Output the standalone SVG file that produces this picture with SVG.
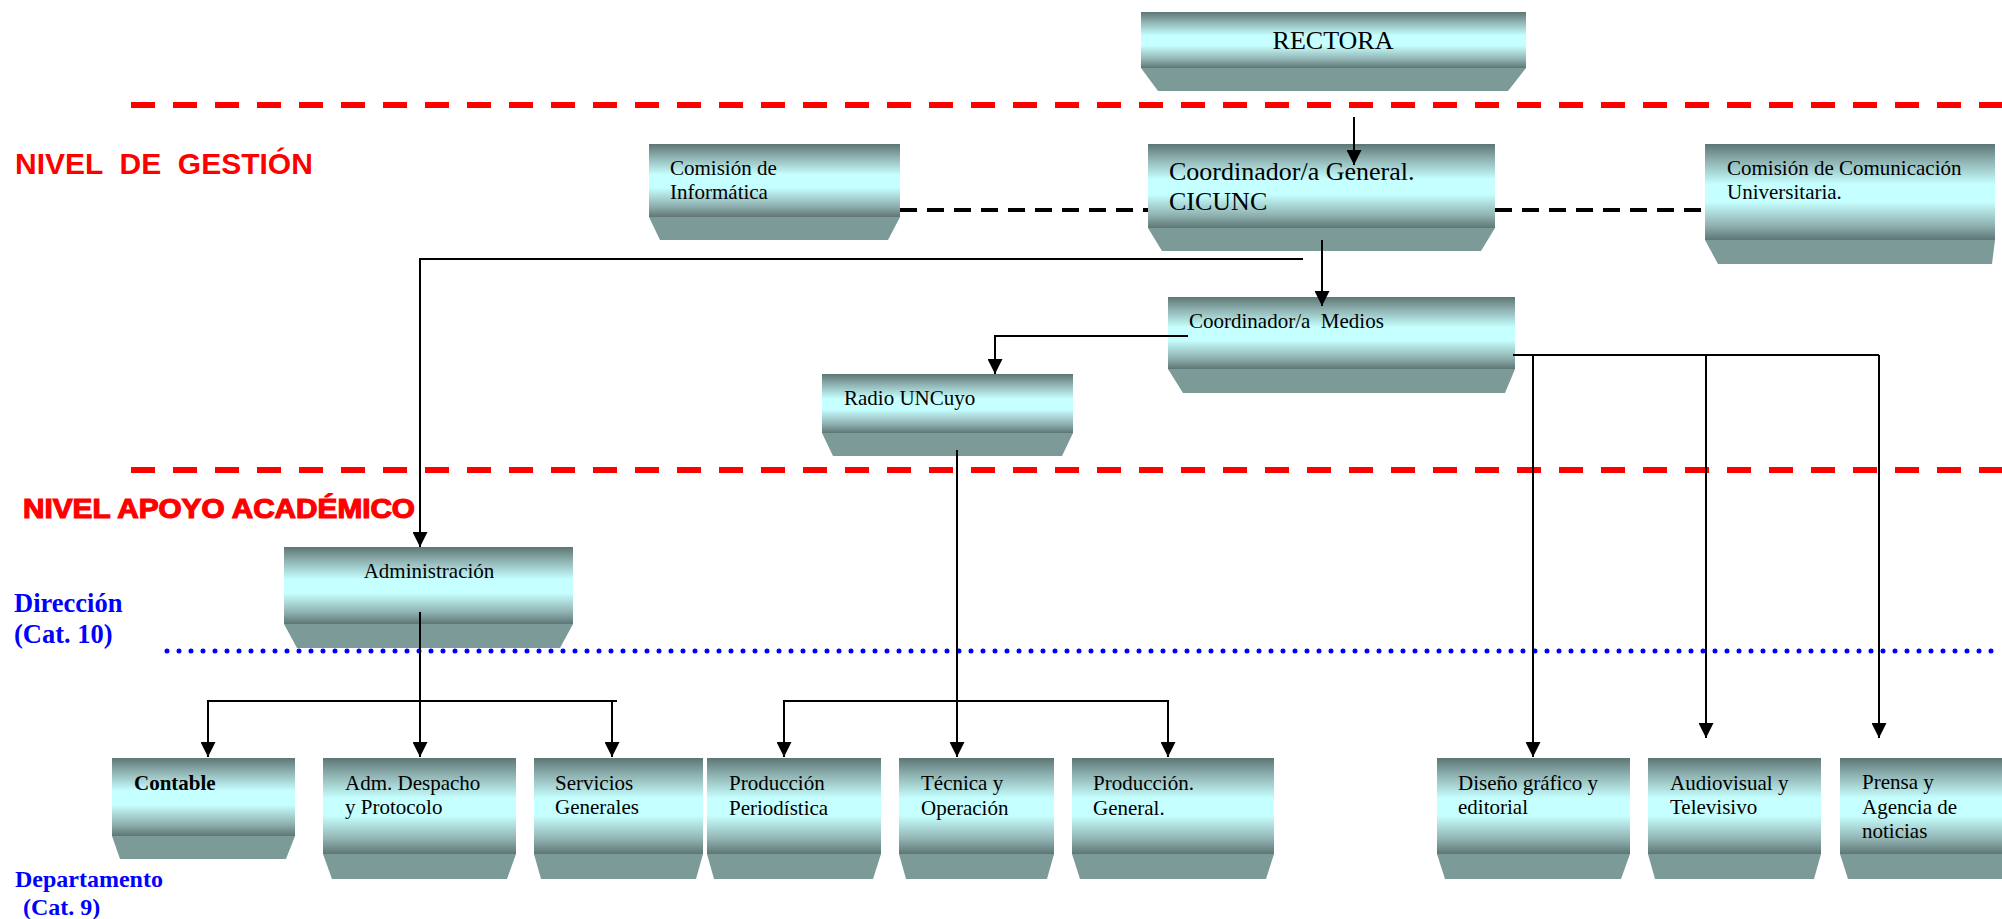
<svg xmlns="http://www.w3.org/2000/svg" width="2002" height="919" viewBox="0 0 2002 919">
  <defs>
    <!-- cylinder-like shading of the box faces -->
    <linearGradient id="face" x1="0" y1="0" x2="0" y2="1">
      <stop offset="0" stop-color="#5d7675"/>
      <stop offset="0.18" stop-color="#8fb3b2"/>
      <stop offset="0.42" stop-color="#c6ffff"/>
      <stop offset="0.6" stop-color="#c6ffff"/>
      <stop offset="0.85" stop-color="#8fb1b0"/>
      <stop offset="1" stop-color="#5d7675"/>
    </linearGradient>
    <marker id="arrow" viewBox="0 0 15 15" refX="15" refY="7.5" markerWidth="15" markerHeight="15" markerUnits="userSpaceOnUse" orient="auto">
      <path d="M0,0 L15,7.5 L0,15 z" fill="#000"/>
    </marker>
    <style>
      .face { fill: url(#face); }
      .base { fill: #7b9a98; }
      .t { font-family: "Liberation Serif", "Times New Roman", serif; font-size: 21px; fill: #000; }
      .big { font-size: 26px; }
      .conn { fill: none; stroke: #000; stroke-width: 2; }
      .arr { marker-end: url(#arrow); }
      .link { fill: none; stroke: #000; stroke-width: 4; stroke-dasharray: 17 10; }
      .level { fill: none; stroke: #ff0000; stroke-width: 6; stroke-dasharray: 24 18; }
      .dots { fill: none; stroke: #0000ff; stroke-width: 5; stroke-linecap: round; stroke-dasharray: 0 12; }
      .red { font-family: "Liberation Sans", Arial, sans-serif; font-weight: bold; fill: #ff0000; }
      .blue { font-family: "Liberation Serif", "Times New Roman", serif; font-weight: bold; fill: #0000ff; }
    </style>
  </defs>

  <!-- level separators -->
  <g id="separators">
    <line class="level" x1="131" y1="105" x2="2002" y2="105"/>
    <line class="level" x1="131" y1="470" x2="2002" y2="470"/>
    <line class="dots" x1="167" y1="651" x2="2002" y2="651"/>
  </g>

  <!-- level labels -->
  <g id="labels">
    <text class="red" x="15" y="174" font-size="30" xml:space="preserve">NIVEL  DE  GESTIÓN</text>
    <text class="red" x="23" y="518" font-size="27" stroke="#ff0000" stroke-width="1.2" textLength="392" lengthAdjust="spacingAndGlyphs">NIVEL APOYO ACADÉMICO</text>
    <text class="blue" x="14" y="612" font-size="26.5">Dirección</text>
    <text class="blue" x="14" y="643" font-size="26.5">(Cat. 10)</text>
    <text class="blue" x="15" y="887" font-size="24">Departamento</text>
    <text class="blue" x="23" y="915" font-size="24">(Cat. 9)</text>
  </g>

  <!-- nodes -->
  <g id="rectora">
    <polygon class="base" points="1141,68 1526,68 1508,91 1158,91"/>
    <rect class="face" x="1141" y="12" width="385" height="56"/>
    <text class="t big" x="1333" y="49" text-anchor="middle">RECTORA</text>
  </g>

  <g id="comision-informatica">
    <polygon class="base" points="649,217 900,217 888,240 660,240"/>
    <rect class="face" x="649" y="144" width="251" height="73"/>
    <text class="t" x="670" y="175">Comisión de</text>
    <text class="t" x="670" y="199">Informática</text>
  </g>

  <g id="coordinador-general">
    <polygon class="base" points="1148,228 1495,228 1481,251 1162,251"/>
    <rect class="face" x="1148" y="144" width="347" height="84"/>
    <text class="t big" x="1169" y="180">Coordinador/a General.</text>
    <text class="t big" x="1169" y="210">CICUNC</text>
  </g>

  <g id="comision-comunicacion">
    <polygon class="base" points="1705,240 1995,240 1992,264 1718,264"/>
    <rect class="face" x="1705" y="144" width="290" height="96"/>
    <text class="t" x="1727" y="175">Comisión de Comunicación</text>
    <text class="t" x="1727" y="199">Universitaria.</text>
  </g>

  <g id="coordinador-medios">
    <polygon class="base" points="1168,369 1515,369 1505,393 1183,393"/>
    <rect class="face" x="1168" y="297" width="347" height="72"/>
    <text class="t" x="1189" y="328" xml:space="preserve">Coordinador/a  Medios</text>
  </g>

  <g id="radio-uncuyo">
    <polygon class="base" points="822,433 1073,433 1062,456 833,456"/>
    <rect class="face" x="822" y="374" width="251" height="59"/>
    <text class="t" x="844" y="405">Radio UNCuyo</text>
  </g>

  <g id="administracion">
    <polygon class="base" points="284,624 573,624 560,648 297,648"/>
    <rect class="face" x="284" y="547" width="289" height="77"/>
    <text class="t" x="429" y="578" text-anchor="middle">Administración</text>
  </g>

  <g id="contable">
    <polygon class="base" points="112,836 295,836 286,859 120,859"/>
    <rect class="face" x="112" y="758" width="183" height="78"/>
    <text class="t" x="134" y="790" font-weight="bold">Contable</text>
  </g>

  <g id="adm-despacho">
    <polygon class="base" points="323,854 516,854 507,879 332,879"/>
    <rect class="face" x="323" y="758" width="193" height="96"/>
    <text class="t" x="345" y="790">Adm. Despacho</text>
    <text class="t" x="345" y="814">y Protocolo</text>
  </g>

  <g id="servicios-generales">
    <polygon class="base" points="534,854 703,854 696,879 541,879"/>
    <rect class="face" x="534" y="758" width="169" height="96"/>
    <text class="t" x="555" y="790">Servicios</text>
    <text class="t" x="555" y="814">Generales</text>
  </g>

  <g id="produccion-periodistica">
    <polygon class="base" points="707,854 881,854 873,879 714,879"/>
    <rect class="face" x="707" y="758" width="174" height="96"/>
    <text class="t" x="729" y="790">Producción</text>
    <text class="t" x="729" y="815">Periodística</text>
  </g>

  <g id="tecnica-operacion">
    <polygon class="base" points="899,854 1054,854 1047,879 906,879"/>
    <rect class="face" x="899" y="758" width="155" height="96"/>
    <text class="t" x="921" y="790">Técnica y</text>
    <text class="t" x="921" y="815">Operación</text>
  </g>

  <g id="produccion-general">
    <polygon class="base" points="1072,854 1274,854 1266,879 1080,879"/>
    <rect class="face" x="1072" y="758" width="202" height="96"/>
    <text class="t" x="1093" y="790">Producción.</text>
    <text class="t" x="1093" y="815">General.</text>
  </g>

  <g id="diseno-grafico">
    <polygon class="base" points="1437,854 1630,854 1621,879 1445,879"/>
    <rect class="face" x="1437" y="758" width="193" height="96"/>
    <text class="t" x="1458" y="790">Diseño gráfico y</text>
    <text class="t" x="1458" y="814">editorial</text>
  </g>

  <g id="audiovisual">
    <polygon class="base" points="1648,854 1821,854 1814,879 1655,879"/>
    <rect class="face" x="1648" y="758" width="173" height="96"/>
    <text class="t" x="1670" y="790">Audiovisual y</text>
    <text class="t" x="1670" y="814">Televisivo</text>
  </g>

  <g id="prensa-agencia">
    <polygon class="base" points="1840,854 2010,854 2010,879 1848,879"/>
    <rect class="face" x="1840" y="758" width="170" height="96"/>
    <text class="t" x="1862" y="789">Prensa y</text>
    <text class="t" x="1862" y="814">Agencia de</text>
    <text class="t" x="1862" y="838">noticias</text>
  </g>

  <!-- connectors -->
  <g id="connectors">
    <!-- advisory links -->
    <line class="link" x1="900" y1="210" x2="1148" y2="210"/>
    <line class="link" x1="1495" y1="210" x2="1705" y2="210"/>

    <!-- Rectora to general coordination -->
    <line class="conn arr" x1="1354" y1="117" x2="1354" y2="165"/>

    <!-- general coordination -->
    <line class="conn arr" x1="1322" y1="240" x2="1322" y2="306"/>
    <polyline class="conn arr" points="1303,259 420,259 420,547"/>

    <!-- media coordination -->
    <polyline class="conn arr" points="1188,336 995,336 995,374"/>
    <polyline class="conn" points="1513,355 1879,355"/>
    <line class="conn arr" x1="1533" y1="355" x2="1533" y2="757"/>
    <line class="conn arr" x1="1706" y1="355" x2="1706" y2="738"/>
    <line class="conn arr" x1="1879" y1="355" x2="1879" y2="738"/>

    <!-- radio departments -->
    <line class="conn arr" x1="957" y1="450" x2="957" y2="757"/>
    <polyline class="conn arr" points="957,701 784,701 784,757"/>
    <polyline class="conn arr" points="957,701 1168,701 1168,757"/>

    <!-- administration departments -->
    <line class="conn arr" x1="420" y1="612" x2="420" y2="757"/>
    <polyline class="conn arr" points="420,701 208,701 208,757"/>
    <polyline class="conn" points="420,701 617,701"/>
    <line class="conn arr" x1="612" y1="701" x2="612" y2="757"/>
  </g>
</svg>
